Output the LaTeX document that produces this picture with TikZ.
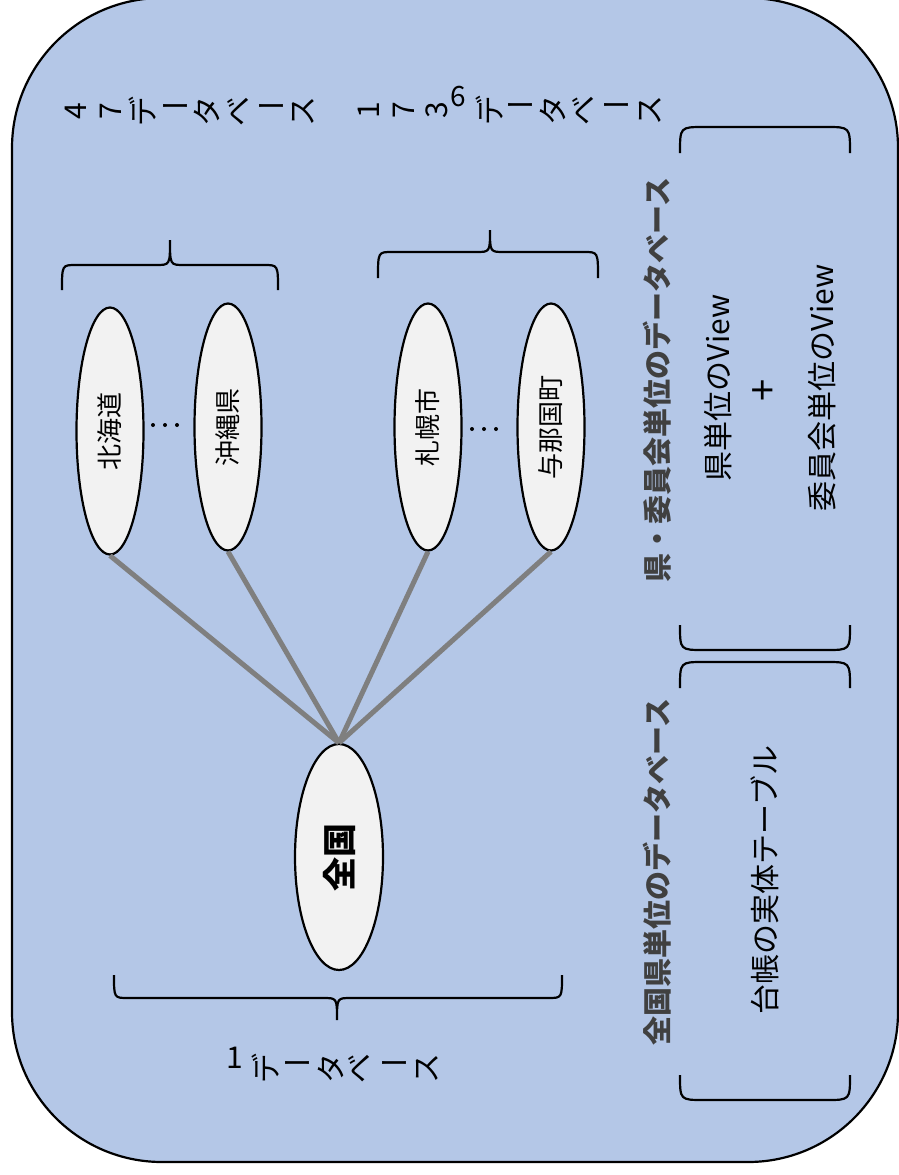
\documentclass[tikz,border=0pt]{standalone}
\usepackage{fontspec}
\newfontfamily\jp{Noto Sans CJK JP}
\usetikzlibrary{shapes.geometric}
\definecolor{bgblue}{HTML}{B4C7E7}
\definecolor{ellfill}{HTML}{F2F2F2}
\definecolor{linegray}{HTML}{7F7F7F}
\definecolor{labgray}{HTML}{404040}
\begin{document}
\begin{tikzpicture}[x=1pt,y=-1pt,
  outline/.style={line width=2.2pt},
  pref/.style={ellipse, draw, line width=2.2pt, fill=ellfill, rotate=90, inner sep=0pt,
     minimum width=247pt, minimum height=67pt, font=\jp\fontsize{26}{26}\selectfont},
  link/.style={draw=linegray, line width=5pt},
  rc/.style={rotate=90, inner sep=0pt, font=\jp\fontsize{30}{30}\selectfont},
  uc/.style={inner sep=0pt, font=\jp\fontsize{30}{30}\selectfont},
  boldlab/.style={rotate=90, inner sep=0pt, text=labgray, font=\jp\bfseries\fontsize{29}{29}\selectfont},
  thinlab/.style={rotate=90, inner sep=0pt, font=\jp\fontsize{30}{30}\selectfont},
  dotmark/.style={circle, fill=black, inner sep=0pt, minimum size=4pt}
]
\useasboundingbox (0,0) rectangle (899,1175);
% background panel
\draw[outline, fill=bgblue, rounded corners=150pt] (12,-2) rectangle (898,1162);

% ellipses
\node[pref] (hk) at (110,431) {北海道};
\node[pref] (ok) at (228,427) {沖縄県};
\node[pref] (sp) at (428,427) {札幌市};
\node[pref] (yn) at (551,427) {与那国町};
\node[pref, minimum width=226pt, minimum height=88pt, font=\jp\bfseries\fontsize{34}{34}\selectfont] (zk) at (339,857) {全国};

% links
\draw[link] (hk.west) -- (zk.east);
\draw[link] (ok.west) -- (zk.east);
\draw[link] (sp.west) -- (zk.east);
\draw[link] (yn.west) -- (zk.east);

% dots
\node[dotmark] (d1a) at (153,425) {};
\node[dotmark] (d1b) at (165,425) {};
\node[dotmark] (d1c) at (177,425) {};
\node[dotmark] (d2a) at (472,429) {};
\node[dotmark] (d2b) at (484,429) {};
\node[dotmark] (d2c) at (496,429) {};

% braces
\draw[outline] (62,290) .. controls (62,265) .. (76,265) -- (156,265) .. controls (170,265) .. (170,240)
  .. controls (170,265) .. (184,265) -- (264,265) .. controls (278,265) .. (278,290);
\draw[outline] (378,278) .. controls (378,252) .. (392,252) -- (476,252) .. controls (490,252) .. (490,230)
  .. controls (490,252) .. (504,252) -- (584,252) .. controls (598,252) .. (598,278);
\draw[outline] (114,975) .. controls (114,998) .. (128,998) -- (323,998) .. controls (337,998) .. (337,1020)
  .. controls (337,998) .. (351,998) -- (548,998) .. controls (562,998) .. (562,975);

% right brackets
\draw[outline] (680,153) .. controls (680,127) .. (704,127) -- (826,127) .. controls (850,127) .. (850,153);
\draw[outline] (680,625) .. controls (680,650) .. (704,650) -- (826,650) .. controls (850,650) .. (850,625);
\draw[outline] (680,688) .. controls (680,662) .. (704,662) -- (826,662) .. controls (850,662) .. (850,688);
\draw[outline] (680,1075) .. controls (680,1100) .. (704,1100) -- (826,1100) .. controls (850,1100) .. (850,1075);

% 47 databases
\node[rc] (a1) at (76,111) {4};
\node[rc] (a2) at (111,111) {7};
\node[rc] (a3) at (143,111) {デ};
\node[uc] (a4) at (175,111) {ー};
\node[rc] (a5) at (207,111) {タ};
\node[rc] (a6) at (239,111) {ベ};
\node[uc] (a7) at (271,111) {ー};
\node[rc] (a8) at (303,111) {ス};

% 1736 databases
\node[rc] (b1) at (369,110) {1};
\node[rc] (b2) at (404,110) {7};
\node[rc] (b3) at (437,110) {3};
\node[uc, font=\jp\fontsize{28}{28}\selectfont] (b4) at (458,97) {6};
\node[rc] (b5) at (490,110) {デ};
\node[uc] (b6) at (520,110) {ー};
\node[rc] (b7) at (553,110) {タ};
\node[rc] (b8) at (584,110) {ベ};
\node[uc] (b9) at (616,110) {ー};
\node[rc] (b10) at (650,110) {ス};

% 1 database
\node[uc] (c1) at (235,1058) {1};
\node[rc] (c2) at (266,1068) {デ};
\node[uc] (c3) at (297,1068) {ー};
\node[rc] (c4) at (331,1068) {タ};
\node[rc] (c5) at (360,1068) {ベ};
\node[uc] (c6) at (394,1068) {ー};
\node[rc] (c7) at (427,1068) {ス};

% right-side labels
\node[boldlab] (l1) at (657,380) {県・委員会単位のデータベース};
\node[boldlab] (l2) at (657,872) {全国県単位のデータベース};
\node[thinlab] (t1) at (718,388) {県単位のView};
\node[thinlab, font=\jp\fontsize{40}{40}\selectfont] (t2) at (765,390) {+};
\node[thinlab] (t3) at (822,388) {委員会単位のView};
\node[thinlab] (t4) at (765,880) {台帳の実体テーブル};
\end{tikzpicture}
\end{document}
